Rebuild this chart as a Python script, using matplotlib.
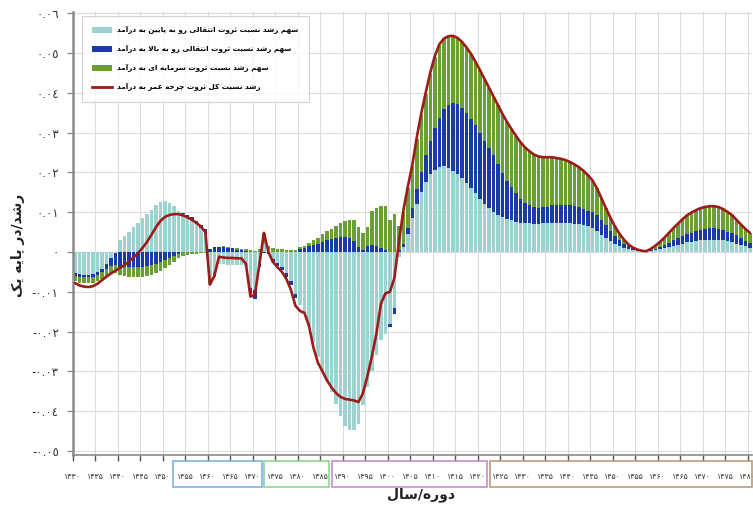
import numpy as np
import matplotlib
matplotlib.use("Agg")
import matplotlib.pyplot as plt
from matplotlib.patches import Rectangle, Patch
from matplotlib.lines import Line2D

# ---------------- data ----------------
years = list(range(1330, 1481))

down_transfer = [
    -0.0054, -0.0056, -0.0057, -0.0057, -0.0055, -0.0050, -0.0042, -0.0030, -0.0016, -0.0003,
    0.0031, 0.0040, 0.0050, 0.0062, 0.0074, 0.0085, 0.0096, 0.0106, 0.0118, 0.0126,
    0.0127, 0.0123, 0.0115, 0.0104, 0.0096, 0.0089, 0.0080, 0.0070, 0.0060, 0.0048,
    -0.0065, -0.0050, -0.0030, -0.0031, -0.0032, -0.0032, -0.0032, -0.0032, -0.0035, -0.0090,
    -0.0095, -0.0030, 0.0022, 0.0005, -0.0017, -0.0027, -0.0038, -0.0052, -0.0074, -0.0105,
    -0.0133, -0.0153, -0.0185, -0.0226, -0.0265, -0.0298, -0.0325, -0.0352, -0.0383, -0.0413,
    -0.0437, -0.0446, -0.0448, -0.0432, -0.0385, -0.0340, -0.0300, -0.0258, -0.0222, -0.0205,
    -0.0180, -0.0140, -0.0012, 0.0012, 0.0045, 0.0085, 0.0120, 0.0150, 0.0175, 0.0195,
    0.0207, 0.0213, 0.0215, 0.0212, 0.0204, 0.0196, 0.0186, 0.0174, 0.0160, 0.0148,
    0.0133, 0.0121, 0.0110, 0.0101, 0.0094, 0.0089, 0.0084, 0.0080, 0.0076, 0.0074,
    0.0073, 0.0072, 0.0071, 0.0071, 0.0072, 0.0073, 0.0074, 0.0074, 0.0073, 0.0073,
    0.0072, 0.0071, 0.0070, 0.0069, 0.0066, 0.0059, 0.0052, 0.0043, 0.0034, 0.0027,
    0.0021, 0.0016, 0.0011, 0.0008, 0.0005, 0.0003, 0.0002, 0.0001, 0.0002, 0.0004,
    0.0007, 0.0009, 0.0012, 0.0015, 0.0018, 0.0021, 0.0024, 0.0026, 0.0028, 0.0029,
    0.0030, 0.0031, 0.0031, 0.0030, 0.0029, 0.0027, 0.0024, 0.0021, 0.0018, 0.0014,
    0.0011,
]

up_transfer = [
    -0.0007, -0.0007, -0.0007, -0.0007, -0.0008, -0.0008, -0.0009, -0.0013, -0.0018, -0.0030,
    -0.0037, -0.0038, -0.0039, -0.0039, -0.0039, -0.0038, -0.0036, -0.0033, -0.0029, -0.0024,
    -0.0019, -0.0014, -0.0009, -0.0004, 0.0002, 0.0005, 0.0007, 0.0008, 0.0009, 0.0010,
    0.0008, 0.0012, 0.0012, 0.0013, 0.0011, 0.0009, 0.0006, 0.0004, 0.0002, -0.0015,
    -0.0022, -0.0008, -0.0003, -0.0004, -0.0007, -0.0008, -0.0008, -0.0010, -0.0010, -0.0010,
    0.0008, 0.0011, 0.0014, 0.0017, 0.0021, 0.0025, 0.0029, 0.0032, 0.0035, 0.0038,
    0.0038, 0.0036, 0.0028, 0.0012, 0.0005, 0.0016, 0.0018, 0.0015, 0.0011, 0.0006,
    -0.0008, -0.0015, 0.0006, 0.0008, 0.0015, 0.0025, 0.0038, 0.0052, 0.0068, 0.0085,
    0.0105, 0.0124, 0.0143, 0.0158, 0.0170, 0.0175, 0.0176, 0.0175, 0.0173, 0.0170,
    0.0166, 0.0159, 0.0151, 0.0142, 0.0127, 0.0110, 0.0094, 0.0082, 0.0071, 0.0060,
    0.0051, 0.0045, 0.0041, 0.0040, 0.0040, 0.0041, 0.0044, 0.0045, 0.0046, 0.0045,
    0.0045, 0.0044, 0.0042, 0.0040, 0.0038, 0.0041, 0.0040, 0.0037, 0.0033, 0.0026,
    0.0019, 0.0014, 0.0010, 0.0006, 0.0004, 0.0002, 0.0001, 0.0001, 0.0002, 0.0003,
    0.0005, 0.0008, 0.0011, 0.0014, 0.0016, 0.0018, 0.0020, 0.0022, 0.0024, 0.0026,
    0.0028, 0.0028, 0.0028, 0.0028, 0.0026, 0.0024, 0.0023, 0.0021, 0.0018, 0.0014,
    0.0011,
]

capital = [
    -0.0013, -0.0014, -0.0014, -0.0015, -0.0016, -0.0016, -0.0017, -0.0018, -0.0019, -0.0020,
    -0.0021, -0.0022, -0.0023, -0.0024, -0.0025, -0.0025, -0.0025, -0.0025, -0.0024, -0.0023,
    -0.0021, -0.0018, -0.0015, -0.0012, -0.0009, -0.0007, -0.0005, -0.0004, -0.0003, -0.0002,
    -0.0015, -0.0012, 0.0001, 0.0001, 0.0002, 0.0002, 0.0003, 0.0004, 0.0005, 0.0004,
    0.0003, 0.0008, 0.0026, 0.0010, 0.0009, 0.0008, 0.0007, 0.0006, 0.0005, 0.0004,
    0.0004, 0.0005, 0.0008, 0.0012, 0.0015, 0.0019, 0.0023, 0.0025, 0.0029, 0.0034,
    0.0039, 0.0045, 0.0052, 0.0050, 0.0043, 0.0046, 0.0086, 0.0095, 0.0104, 0.0109,
    0.0080, 0.0095, 0.0060, 0.0080, 0.0100, 0.0105, 0.0127, 0.0143, 0.0155, 0.0168,
    0.0178, 0.0183, 0.0177, 0.0172, 0.0169, 0.0167, 0.0166, 0.0165, 0.0165, 0.0160,
    0.0158, 0.0155, 0.0152, 0.0148, 0.0148, 0.0148, 0.0149, 0.0147, 0.0145, 0.0142,
    0.0139, 0.0136, 0.0133, 0.0129, 0.0126, 0.0124, 0.0120, 0.0117, 0.0115, 0.0113,
    0.0109, 0.0105, 0.0101, 0.0095, 0.0089, 0.0080, 0.0068, 0.0055, 0.0043, 0.0033,
    0.0024, 0.0016, 0.0010, 0.0005, 0.0002, 0.0001, 0.0000, 0.0000, 0.0004, 0.0009,
    0.0013, 0.0019, 0.0025, 0.0031, 0.0037, 0.0043, 0.0048, 0.0051, 0.0053, 0.0055,
    0.0055, 0.0056, 0.0056, 0.0055, 0.0053, 0.0050, 0.0046, 0.0039, 0.0033, 0.0030,
    0.0026,
]

total = [
    -0.0078, -0.0084, -0.0087, -0.0088, -0.0086, -0.0080, -0.0071, -0.0062, -0.0054, -0.0047,
    -0.0040, -0.0033, -0.0024, -0.0014, -0.0003, 0.0010, 0.0025, 0.0043, 0.0062, 0.0078,
    0.0088, 0.0093, 0.0095, 0.0095, 0.0092, 0.0087, 0.0081, 0.0073, 0.0064, 0.0050,
    -0.0082, -0.0060, -0.0012, -0.0014, -0.0015, -0.0015, -0.0016, -0.0016, -0.0030, -0.0112,
    -0.0108, -0.0030, 0.0048, 0.0000, -0.0025, -0.0038, -0.0050, -0.0068, -0.0095, -0.0135,
    -0.0148, -0.0153, -0.0185, -0.0240, -0.0278, -0.0300, -0.0322, -0.0340, -0.0354, -0.0364,
    -0.0369, -0.0371, -0.0373, -0.0377, -0.0355, -0.0312, -0.0262, -0.0205, -0.0130, -0.0104,
    -0.0100, -0.0065, 0.0025, 0.0105, 0.0165, 0.0220, 0.0290, 0.0350, 0.0403, 0.0452,
    0.0493, 0.0522, 0.0536, 0.0542, 0.0543, 0.0538, 0.0528, 0.0514, 0.0498, 0.0478,
    0.0457, 0.0435, 0.0413, 0.0391, 0.0369, 0.0347, 0.0327, 0.0309, 0.0292, 0.0276,
    0.0263, 0.0253, 0.0245, 0.0240, 0.0238, 0.0238, 0.0238, 0.0236, 0.0234, 0.0231,
    0.0226, 0.0220, 0.0213, 0.0204, 0.0193, 0.0180, 0.0160, 0.0135, 0.0110, 0.0086,
    0.0064, 0.0046, 0.0031, 0.0019, 0.0011, 0.0006, 0.0003, 0.0002, 0.0008, 0.0016,
    0.0025, 0.0036, 0.0048, 0.0060, 0.0071, 0.0082, 0.0092, 0.0099, 0.0105, 0.0110,
    0.0113, 0.0115, 0.0115, 0.0113, 0.0108, 0.0101, 0.0093, 0.0081, 0.0069, 0.0058,
    0.0048,
]

xtick_years = list(range(1330, 1481, 5))
xtick_labels = [
    "۱۳۳۰", "۱۳۳۵", "۱۳۴۰", "۱۳۴۵", "۱۳۵۰", "۱۳۵۵", "۱۳۶۰", "۱۳۶۵", "۱۳۷۰", "۱۳۷۵",
    "۱۳۸۰", "۱۳۸۵", "۱۳۹۰", "۱۳۹۵", "۱۴۰۰", "۱۴۰۵", "۱۴۱۰", "۱۴۱۵", "۱۴۲۰", "۱۴۲۵",
    "۱۴۳۰", "۱۴۳۵", "۱۴۴۰", "۱۴۴۵", "۱۴۵۰", "۱۴۵۵", "۱۴۶۰", "۱۴۶۵", "۱۴۷۰", "۱۴۷۵",
    "۱۴۸۰",
]
ytick_values = [-0.05, -0.04, -0.03, -0.02, -0.01, 0.0, 0.01, 0.02, 0.03, 0.04, 0.05, 0.06]
ytick_labels = ["-٠.٠٥", "-٠.٠٤", "-٠.٠٣", "-٠.٠٢", "-٠.٠١", "٠",
                "٠.٠١", "٠.٠٢", "٠.٠٣", "٠.٠٤", "٠.٠٥", "٠.٠٦"]

legend_labels = [
    "سهم رشد نسبت ثروت انتقالی رو به پایین به درآمد",
    "سهم رشد نسبت ثروت انتقالی رو به بالا به درآمد",
    "سهم رشد نسبت ثروت سرمایه ای به درآمد",
    "رشد نسبت کل ثروت چرخه عمر به درآمد",
]
x_title = "دوره/سال"
y_title = "رشد/در پایه یک"

assert len(down_transfer) == len(up_transfer) == len(capital) == len(total) == len(years)

# ---------------- Persian shaping (presentation forms + visual order) ----------------
FORMS = {
    "\u0627": ("\uFE8D", "\uFE8E", None, None),
    "\u0622": ("\uFE81", "\uFE82", None, None),
    "\u0628": ("\uFE8F", "\uFE90", "\uFE91", "\uFE92"),
    "\u062A": ("\uFE95", "\uFE96", "\uFE97", "\uFE98"),
    "\u062B": ("\uFE99", "\uFE9A", "\uFE9B", "\uFE9C"),
    "\u062E": ("\uFEA5", "\uFEA6", "\uFEA7", "\uFEA8"),
    "\u062F": ("\uFEA9", "\uFEAA", None, None),
    "\u0631": ("\uFEAD", "\uFEAE", None, None),
    "\u0633": ("\uFEB1", "\uFEB2", "\uFEB3", "\uFEB4"),
    "\u0634": ("\uFEB5", "\uFEB6", "\uFEB7", "\uFEB8"),
    "\u0639": ("\uFEC9", "\uFECA", "\uFECB", "\uFECC"),
    "\u0642": ("\uFED5", "\uFED6", "\uFED7", "\uFED8"),
    "\u0644": ("\uFEDD", "\uFEDE", "\uFEDF", "\uFEE0"),
    "\u0645": ("\uFEE1", "\uFEE2", "\uFEE3", "\uFEE4"),
    "\u0646": ("\uFEE5", "\uFEE6", "\uFEE7", "\uFEE8"),
    "\u0647": ("\uFEE9", "\uFEEA", "\uFEEB", "\uFEEC"),
    "\u0648": ("\uFEED", "\uFEEE", None, None),
    "\u067E": ("\uFB56", "\uFB57", "\uFB58", "\uFB59"),
    "\u0686": ("\uFB7A", "\uFB7B", "\uFB7C", "\uFB7D"),
    "\u06A9": ("\uFB8E", "\uFB8F", "\uFB90", "\uFB91"),
    "\u06CC": ("\uFBFC", "\uFBFD", "\uFBFE", "\uFBFF"),
}
LAM_ALEF = {"\u0627": ("\uFEFB", "\uFEFC"), "\u0622": ("\uFEF5", "\uFEF6")}


def dual(c):
    return c in FORMS and FORMS[c][2] is not None


def shape(text):
    out = []
    n = len(text)
    i = 0
    while i < n:
        c = text[i]
        if c not in FORMS:
            out.append(c)
            i += 1
            continue
        prev_join = i > 0 and dual(text[i - 1])
        if c == "\u0644" and i + 1 < n and text[i + 1] in LAM_ALEF:
            iso, fin = LAM_ALEF[text[i + 1]]
            out.append(fin if prev_join else iso)
            i += 2
            continue
        next_join = dual(c) and i + 1 < n and text[i + 1] in FORMS
        iso, fin, ini, med = FORMS[c]
        if prev_join and next_join:
            out.append(med)
        elif prev_join:
            out.append(fin)
        elif next_join:
            out.append(ini)
        else:
            out.append(iso)
        i += 1
    return "".join(reversed(out))


# ---------------- figure ----------------
plt.rcParams["font.family"] = ["DejaVu Sans"]
C_DOWN = "#9cd3d1"
C_UP = "#1b3aa6"
C_CAP = "#6a9f33"
C_TOT = "#9c1b1b"

fig = plt.figure(figsize=(7.53, 5.09), dpi=100)
ax = fig.add_axes([0.0965, 0.1061, 0.9024, 0.8697])
ax.set_xlim(1330, 1481)
ax.set_ylim(-0.051, 0.0602)

x = np.array(years) + 0.5
pos_base = np.zeros(len(years))
neg_base = np.zeros(len(years))
for vals, col in ((down_transfer, C_DOWN), (up_transfer, C_UP), (capital, C_CAP)):
    v = np.array(vals)
    bottom = np.where(v >= 0, pos_base, neg_base)
    ax.bar(x, v, width=0.78, bottom=bottom, color=col, linewidth=0, zorder=2)
    pos_base = pos_base + np.where(v > 0, v, 0)
    neg_base = neg_base + np.where(v < 0, v, 0)

ax.plot(x, total, color=C_TOT, lw=1.9, zorder=3, solid_capstyle="round")

# grid and axes
ax.set_yticks(ytick_values)
ax.set_yticklabels(ytick_labels, fontsize=8.5, color="#333333")
ax.set_xticks(xtick_years)
ax.set_xticklabels(xtick_labels, fontsize=5.6, color="#333333")
ax.grid(True, color="#dcdcdc", lw=0.8, zorder=0)
ax.set_axisbelow(True)
for s in ("top", "right"):
    ax.spines[s].set_visible(False)
ax.spines["left"].set_color("#8a8a8a")
ax.spines["left"].set_linewidth(1.8)
ax.spines["bottom"].set_color("#8a8a8a")
ax.spines["bottom"].set_linewidth(1.2)
ax.tick_params(axis="y", direction="out", length=4, width=1, color="#8a8a8a", pad=6)
ax.tick_params(axis="x", direction="out", length=4, width=1, color="#555555", pad=8)

# coloured group boxes under the tick labels
groups = [(1352.4, 1372.0, "#7fb0e6"), (1372.5, 1387.0, "#8fd68f"),
          (1387.6, 1422.1, "#c48fcb"), (1422.7, 1480.9, "#b99c7c")]
trans = ax.get_xaxis_transform()
for x0, x1, col in groups:
    ax.add_patch(Rectangle((x0, -0.073), x1 - x0, 0.060, transform=trans,
                           fill=False, edgecolor=col, lw=1.2, clip_on=False, zorder=5))

# legend
handles = [Patch(facecolor=C_DOWN, edgecolor="none"),
           Patch(facecolor=C_UP, edgecolor="none"),
           Patch(facecolor=C_CAP, edgecolor="none"),
           Line2D([], [], color=C_TOT, lw=2)]
leg = ax.legend(handles, [shape(t) for t in legend_labels], loc="upper left",
                bbox_to_anchor=(0.0132, 0.992), borderaxespad=0, frameon=True,
                fancybox=False, edgecolor="#c8c8c8",
                handlelength=2.8, handleheight=0.8, labelspacing=1.5,
                borderpad=1.45, handletextpad=0.6, prop={"weight": "bold", "size": 5.2})
leg.get_frame().set_linewidth(0.8)

fig.text(421 / 753, 1 - 495 / 509, shape(x_title), ha="center", va="center",
         fontsize=10, fontweight="bold", color="#222222")
fig.text(18 / 753, 1 - 245 / 509, shape(y_title), ha="center", va="center",
         rotation=90, fontsize=10, fontweight="bold", color="#222222")

fig.savefig("out.png", dpi=100)
